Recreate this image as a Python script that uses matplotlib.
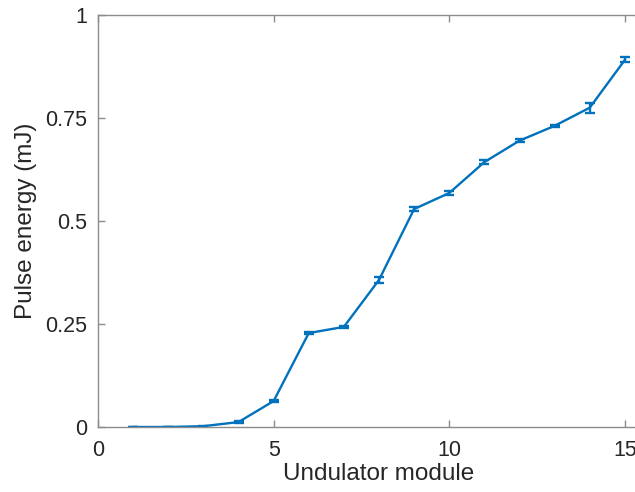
import numpy as np
import matplotlib.pyplot as plt

plt.rcParams['font.family'] = ['Liberation Sans', 'DejaVu Sans']

# data
module = [1, 2, 3, 4, 5, 6, 7, 8, 9, 10, 11, 12, 13, 14, 15]
energy = [0.0, 0.0, 0.002, 0.012, 0.063, 0.228, 0.243, 0.357, 0.529,
          0.568, 0.643, 0.695, 0.731, 0.775, 0.891]
err = [0.0, 0.0, 0.001, 0.002, 0.003, 0.003, 0.003, 0.008, 0.004,
       0.006, 0.005, 0.003, 0.003, 0.012, 0.006]

xticks = [0, 5, 10, 15]
yticks = [0, 0.25, 0.5, 0.75, 1]
yticklabels = ['0', '0.25', '0.5', '0.75', '1']

blue = '#0072BD'
axcol = '#8c8c8c'
txtcol = '#262626'

fig = plt.figure(figsize=(6.35, 4.92), dpi=100)
# axes runs past the right edge of the figure, as in the reference crop
ax = fig.add_axes([98/635, 65/492, 562/635, 412/492])

ax.errorbar(module, energy, yerr=err, color=blue, lw=1.7,
            capsize=3.5, capthick=1.7, elinewidth=1.7)

ax.set_xlim(0, 16)
ax.set_ylim(0, 1)
ax.set_xticks(xticks)
ax.set_yticks(yticks)
ax.set_yticklabels(yticklabels)

for s in ax.spines.values():
    s.set_color(axcol)
    s.set_linewidth(1.0)

ax.tick_params(direction='in', length=5, width=1.0, color=axcol,
               labelcolor=txtcol, labelsize=15.5, top=True, right=True)
ax.tick_params(axis='x', pad=9)
ax.tick_params(axis='y', pad=8)

ax.set_xlabel('Undulator module', fontsize=17.5, color=txtcol, labelpad=2)
ax.set_ylabel('Pulse energy (mJ)', fontsize=17.5, color=txtcol, labelpad=6)

fig.savefig('out.png', dpi=100)
